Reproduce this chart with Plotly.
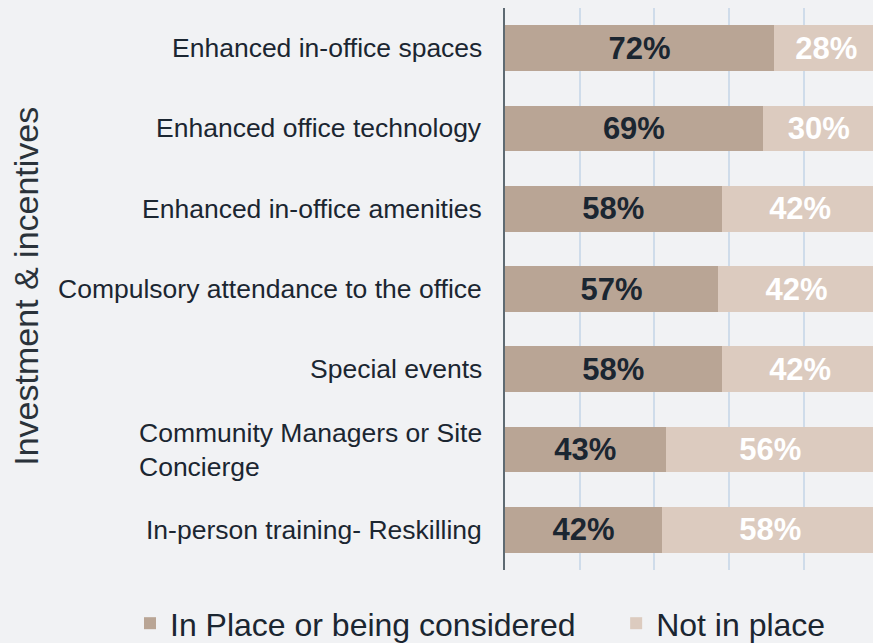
import plotly.graph_objects as go

categories = [
    "Enhanced in-office spaces",
    "Enhanced office technology",
    "Enhanced in-office amenities",
    "Compulsory attendance to the office",
    "Special events",
    "Community Managers or Site<br>Concierge",
    "In-person training- Reskilling",
]
in_place = [72, 69, 58, 57, 58, 43, 42]
not_in_place = [28, 30, 42, 42, 42, 56, 58]
series_names = ["In Place or being considered", "Not in place"]
axis_title = "Investment & incentives"

DARK = "#b9a595"
LIGHT = "#dccbbf"
TEXT = "#1b2631"
BG = "#f1f2f4"
FONT = "Liberation Sans, Arial, sans-serif"
PAD = "\u00a0" * 4  # spacing between legend entries

fig = go.Figure()
fig.add_trace(go.Bar(
    y=categories, x=in_place, orientation="h", name=series_names[0] + PAD,
    marker=dict(color=DARK, line=dict(width=0)),
    text=[f"{v}%" for v in in_place], textposition="inside",
    insidetextanchor="middle", textangle=0, constraintext="none",
    textfont=dict(family=FONT, size=31, color=TEXT, weight="bold"),
    width=0.57, hoverinfo="skip",
))
fig.add_trace(go.Bar(
    y=categories, x=not_in_place, orientation="h", name=series_names[1],
    marker=dict(color=LIGHT, line=dict(width=0)),
    text=[f"{v}%" for v in not_in_place], textposition="inside",
    insidetextanchor="middle", textangle=0, constraintext="none",
    textfont=dict(family=FONT, size=31, color="#ffffff", weight="bold"),
    width=0.57, hoverinfo="skip",
))

for c in categories:
    fig.add_annotation(
        xref="paper", yref="y", x=0, y=c, text=c, showarrow=False,
        xanchor="right", yanchor="middle", align="left", xshift=-21,
        font=dict(family=FONT, size=26.5, color=TEXT),
    )

fig.add_annotation(
    xref="paper", yref="paper", x=-1.3, y=0.505, text=axis_title,
    showarrow=False, textangle=-90, xanchor="center", yanchor="middle",
    font=dict(family=FONT, size=34, color="#2a323a"),
)

fig.update_layout(
    barmode="stack",
    width=873, height=643,
    margin=dict(l=505, r=0, t=8, b=73, autoexpand=False),
    paper_bgcolor=BG, plot_bgcolor=BG,
    font=dict(family=FONT, color=TEXT),
    showlegend=True,
    legend=dict(
        orientation="h", xref="paper", yref="paper",
        x=-1.019, xanchor="left", y=-0.095, yanchor="middle",
        font=dict(family=FONT, size=32, color=TEXT),
        itemwidth=30, traceorder="normal", bgcolor="rgba(0,0,0,0)",
    ),
    bargap=0.43,
)
fig.update_xaxes(
    range=[0, 98.5], showgrid=True, gridcolor="#cfdcea", gridwidth=1.5,
    dtick=20, tick0=0, showticklabels=False, zeroline=False,
    showline=False, fixedrange=True,
)
fig.update_yaxes(
    autorange=False, range=[6.5, -0.5], showticklabels=False,
    showgrid=False, zeroline=False, showline=True, linecolor="#5e6a72",
    linewidth=2, fixedrange=True,
)

fig.write_html(
    "out.html",
    config={"displayModeBar": False},
    post_script="document.body.style.margin='0';document.body.style.background='#f1f2f4';",
)
